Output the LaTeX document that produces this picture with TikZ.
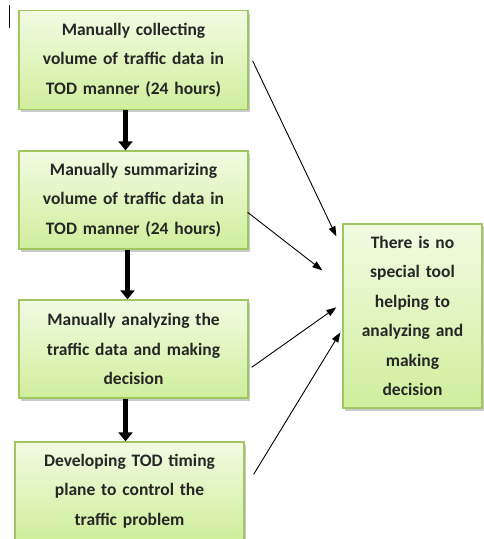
\documentclass[tikz,border=0pt]{standalone}
\usepackage{fontspec}
\setmainfont{Carlito}
\usetikzlibrary{arrows.meta,shadows,calc}
\definecolor{boxtop}{RGB}{242,251,226}
\definecolor{boxbot}{RGB}{208,238,156}
\definecolor{boxline}{RGB}{160,198,98}
\begin{document}
\begin{tikzpicture}[x=1pt,y=-1pt,
  flowbox/.style={draw=boxline,line width=1.3pt,top color=boxtop,bottom color=boxbot,
    align=center,inner sep=2pt,text=black!85,font=\bfseries\fontsize{17.5}{29.5}\selectfont,
    drop shadow={shadow xshift=2pt,shadow yshift=-2.5pt,opacity=0.35,fill=black!60}},
  thick arrow/.style={line width=4.5pt,-{Triangle[width=14pt,length=9pt]}},
  thin arrow/.style={line width=0.9pt,-{Triangle[width=7pt,length=10pt]}}]
\useasboundingbox (0,0) rectangle (484,539);
\draw[line width=0.8pt] (9,5) -- (9,28);
\node[flowbox,minimum width=229pt,minimum height=99pt,text width=225pt] (b1) at (133.5,60)
  {Manually collecting\\volume of traffic data in\\TOD manner (24 hours)};
\node[flowbox,minimum width=229pt,minimum height=98pt,text width=225pt] (b2) at (133.5,200)
  {Manually summarizing\\volume of traffic data in\\TOD manner (24 hours)};
\node[flowbox,minimum width=229pt,minimum height=98pt,text width=225pt] (b3) at (133.5,349)
  {Manually analyzing the\\traffic data and making\\decision};
\node[flowbox,minimum width=229pt,minimum height=98pt,text width=225pt] (b4) at (129.5,491)
  {Developing TOD timing\\plane to control the\\traffic problem};
\node[flowbox,minimum width=139pt,minimum height=184pt,text width=135pt] (r) at (412.5,316)
  {There is no\\special tool\\helping to\\analyzing and\\making\\decision};
\draw[thick arrow] (b1.south) ++(-8,0) coordinate (a1) -- (a1 |- b2.north);
\draw[thick arrow] (b2.south) ++(-6,0) coordinate (a2) -- (a2 |- b3.north);
\draw[thick arrow] (b3.south) ++(-8,0) coordinate (a3) -- (a3 |- b4.north);
\coordinate (s1) at ($(b1.north east)+(4,51)$);
\coordinate (s2) at ($(b2.north east)+(-1,62)$);
\coordinate (s3) at ($(b3.north east)+(3,68)$);
\coordinate (s4) at ($(b4.north east)+(9,33)$);
\coordinate (e1) at ($(r.north west)+(-6,13)$);
\coordinate (e2) at ($(r.north west)+(-20,47)$);
\coordinate (e3) at ($(r.north west)+(-6,84)$);
\coordinate (e4) at ($(r.north west)+(-2,109)$);
\draw[thin arrow] (s1) -- (e1);
\draw[thin arrow] (s2) -- (e2);
\draw[thin arrow] (s3) -- (e3);
\draw[thin arrow] (s4) -- (e4);
\end{tikzpicture}
\end{document}
